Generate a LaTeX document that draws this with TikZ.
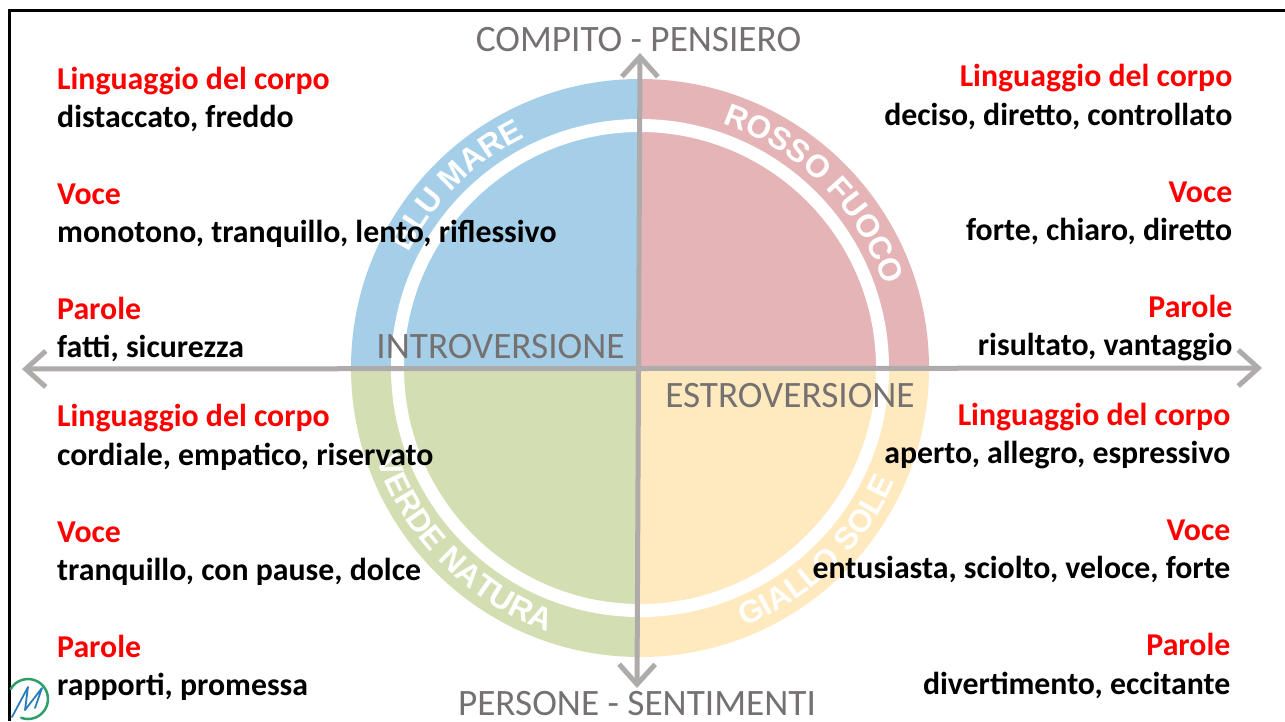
\documentclass[tikz,border=0pt]{standalone}
\usepackage{fontspec}
\setmainfont{Carlito}
\newfontfamily\ringfont{Liberation Sans}[Scale=1]
\usetikzlibrary{arrows.meta,decorations.text}
\usepackage{xcolor}
\definecolor{bluemare}{HTML}{A5CFE8}
\definecolor{rossofuoco}{HTML}{E4B4B7}
\definecolor{verdenatura}{HTML}{D3DFB3}
\definecolor{giallosole}{HTML}{FFE9BF}
\definecolor{axisgray}{HTML}{AFABAB}
\definecolor{labelgray}{HTML}{767171}
\definecolor{logoblue}{HTML}{2A7DB8}
\definecolor{logogreen}{HTML}{2E9E6B}

\begin{document}
\begin{tikzpicture}[
    cap=round,
    axisline/.style={axisgray, line width=0.05cm, {Straight Barb[length=0.2cm,width=0.36cm,line width=0.05cm]}-{Straight Barb[length=0.2cm,width=0.36cm,line width=0.05cm]}},
    axislabel/.style={labelgray, font=\fontsize{10.6}{11}\selectfont, inner sep=0pt},
    titleleft/.style={red, font=\fontsize{9.05}{10}\selectfont\bfseries, anchor=base west, inner sep=0pt},
    textleft/.style={black, font=\fontsize{9.05}{10}\selectfont\bfseries, anchor=base west, inner sep=0pt},
    titleright/.style={red, font=\fontsize{9.05}{10}\selectfont\bfseries, anchor=base east, inner sep=0pt},
    textright/.style={black, font=\fontsize{9.05}{10}\selectfont\bfseries, anchor=base east, inner sep=0pt},
    ringtext/.style={decorate, decoration={text along path, text color=white, text align=center, text={|\fontsize{9}{9}\ringfont\bfseries|#1}}}
  ]
  \useasboundingbox (0,0) rectangle (12.85,7.21);
  \fill[white] (0,0) rectangle (12.85,7.21);

  % the frame
  \draw[black, line width=0.025cm, line cap=butt] (0.095,0) -- (0.095,7.105) -- (12.85,7.105);

  % the four sectors
  \coordinate (centre) at (6.40,3.53);
  \fill[bluemare] (centre) -- +(90:2.89) arc (90:180:2.89) -- cycle;
  \fill[rossofuoco] (centre) -- +(0:2.89) arc (0:90:2.89) -- cycle;
  \fill[verdenatura] (centre) -- +(180:2.89) arc (180:270:2.89) -- cycle;
  \fill[giallosole] (centre) -- +(270:2.89) arc (270:360:2.89) -- cycle;

  % white ring
  \draw[white, line width=0.13cm] (centre) circle(2.425cm);

  % text on the ring
  \path[ringtext={ROSSO FUOCO}] (centre) ++(85:2.58) arc (85:5:2.58);
  \path[ringtext={BLU MARE}] (centre) ++(175:2.58) arc (175:95:2.58);
  \path[ringtext={VERDE NATURA}] (centre) ++(185:2.79) arc (185:265:2.79);
  \path[ringtext={GIALLO SOLE}] (centre) ++(274:2.79) arc (274:354:2.79);

  % draw the axes
  \coordinate (west) at (0.22,3.52);
  \coordinate (east) at (12.62,3.53);
  \coordinate (north) at (6.40,6.68);
  \coordinate (south) at (6.37,0.33);
  \draw[axisline] (west) -- (east);
  \draw[axisline] (south) -- (north);

  % names of the axes
  \node[axislabel] (compito) at (6.385,6.81) {COMPITO - PENSIERO};
  \node[axislabel] (persone) at (6.37,0.17) {PERSONE - SENTIMENTI};
  \node[axislabel] (intro) at (5.005,3.745) {INTROVERSIONE};
  \node[axislabel] (estro) at (7.90,3.25) {ESTROVERSIONE};

  % upper left
  \node[titleleft] (blutitle1) at (0.565,6.315) {Linguaggio del corpo};
  \node[textleft] (blutext1) at (0.565,5.935) {distaccato, freddo};
  \node[titleleft] (blutitle2) at (0.565,5.165) {Voce};
  \node[textleft] (blutext2) at (0.565,4.785) {monotono, tranquillo, lento, riflessivo};
  \node[titleleft] (blutitle3) at (0.565,4.015) {Parole};
  \node[textleft] (blutext3) at (0.565,3.635) {fatti, sicurezza};

  % upper right
  \node[titleright] (rossotitle1) at (12.33,6.345) {Linguaggio del corpo};
  \node[textright] (rossotext1) at (12.33,5.955) {deciso, diretto, controllato};
  \node[titleright] (rossotitle2) at (12.33,5.185) {Voce};
  \node[textright] (rossotext2) at (12.33,4.805) {forte, chiaro, diretto};
  \node[titleright] (rossotitle3) at (12.33,4.035) {Parole};
  \node[textright] (rossotext3) at (12.33,3.655) {risultato, vantaggio};

  % lower left
  \node[titleleft] (verdetitle1) at (0.565,2.945) {Linguaggio del corpo};
  \node[textleft] (verdetext1) at (0.565,2.555) {cordiale, empatico, riservato};
  \node[titleleft] (verdetitle2) at (0.565,1.785) {Voce};
  \node[textleft] (verdetext2) at (0.565,1.405) {tranquillo, con pause, dolce};
  \node[titleleft] (verdetitle3) at (0.565,0.635) {Parole};
  \node[textleft] (verdetext3) at (0.565,0.255) {rapporti, promessa};

  % lower right
  \node[titleright] (giallotitle1) at (12.31,2.955) {Linguaggio del corpo};
  \node[textright] (giallotext1) at (12.31,2.575) {aperto, allegro, espressivo};
  \node[titleright] (giallotitle2) at (12.31,1.805) {Voce};
  \node[textright] (giallotext2) at (12.31,1.425) {entusiasta, sciolto, veloce, forte};
  \node[titleright] (giallotitle3) at (12.31,0.655) {Parole};
  \node[textright] (giallotext3) at (12.31,0.265) {divertimento, eccitante};

  % logo
  \draw[logogreen, line width=0.025cm] (0.28,0.22) ++(150:0.2) arc (150:-110:0.2);
  \draw[logoblue, line width=0.018cm, line join=round] (0.12,0.04) -- (0.28,0.34) -- (0.25,0.11) -- (0.42,0.33) -- (0.35,0.13);
\end{tikzpicture}
\end{document}
